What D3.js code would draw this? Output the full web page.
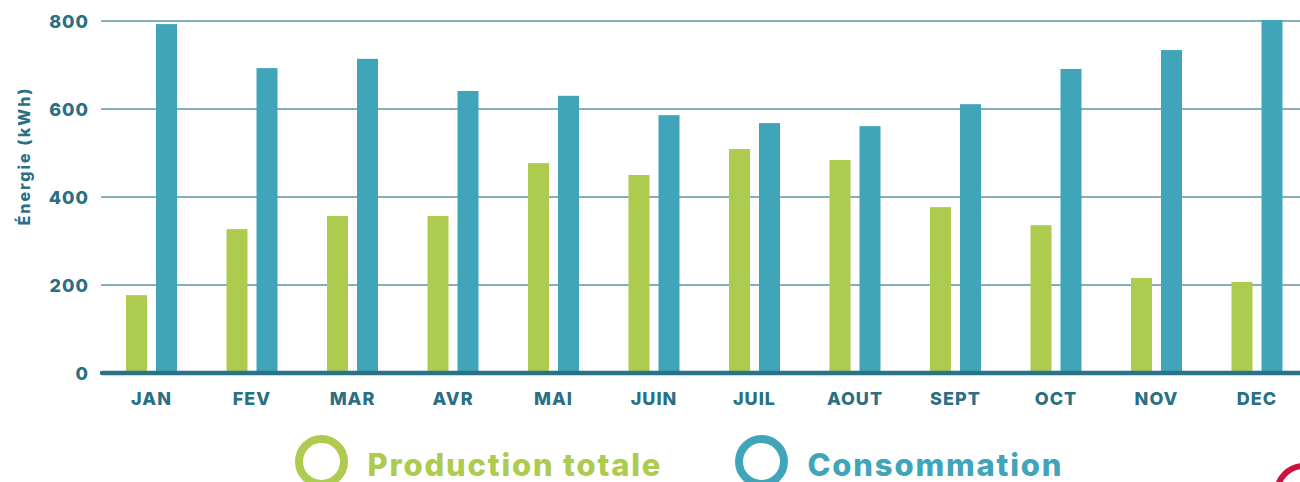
<!DOCTYPE html>
<html>
<head>
<meta charset="utf-8">
<script src="https://cdn.jsdelivr.net/npm/d3@7"></script>
<style>
	body { margin: 0; background: #fff; }
	text { font-family: Inter, "Open Sans", sans-serif; font-weight: 800; }
</style>
</head>
<body>
<div id="chart-area"></div>
<script>

// SVG Size
let width 	= 1300,
	height	= 482;

// data
let months      = ["JAN", "FEV", "MAR", "AVR", "MAI", "JUIN", "JUIL", "AOUT", "SEPT", "OCT", "NOV", "DEC"];
let production  = [177, 327, 357, 357, 477, 450, 509, 484, 377, 336, 216, 207];
let consumption = [793, 693, 714, 641, 630, 586, 568, 561, 611, 691, 734, 802];
let seriesNames = ["Production totale", "Consommation"];
let yTicks      = [0, 200, 400, 600, 800];

let colors = ["#adcb4f", "#41a5b9"];
let textColor = "#2a6f84";

let data = months.map((m, i) => ({ month: m, values: [production[i], consumption[i]] }));

let svg = d3.select("#chart-area")
	.append("svg")
	.attr("width", width)
	.attr("height", height);

// scales
let x0 = d3.scaleBand()
	.domain(months)
	.range([101.25, 1307.25])
	.paddingInner(0.4925)
	.paddingOuter(0.24625);

let x1 = d3.scaleBand()
	.domain([0, 1])
	.range([0, x0.bandwidth()])
	.paddingInner(0.3);

let y = d3.scaleLinear()
	.domain([0, 800])
	.range([373, 21]);

// gridlines
svg.selectAll(".grid")
	.data(yTicks.filter(d => d > 0))
	.enter()
	.append("line")
	.attr("class", "grid")
	.attr("x1", 101)
	.attr("x2", width)
	.attr("y1", d => y(d))
	.attr("y2", d => y(d))
	.attr("stroke", "#5a93a3")
	.attr("stroke-width", 1.6);

// bars
let groups = svg.selectAll(".month")
	.data(data)
	.enter()
	.append("g")
	.attr("class", "month")
	.attr("transform", d => "translate(" + x0(d.month) + ",0)");

groups.selectAll("rect")
	.data(d => d.values)
	.enter()
	.append("rect")
	.attr("x", (d, i) => x1(i))
	.attr("width", x1.bandwidth())
	.attr("y", d => y(d))
	.attr("height", d => y(0) - y(d))
	.attr("fill", (d, i) => colors[i]);

// y axis (labels only)
let yAxis = d3.axisLeft(y)
	.tickValues(yTicks)
	.tickSize(0)
	.tickPadding(0);

let yg = svg.append("g")
	.attr("transform", "translate(89,0)")
	.call(yAxis);
yg.select(".domain").remove();
yg.selectAll("text")
	.attr("fill", textColor)
	.style("font-size", "18px")
	.style("letter-spacing", "1px")
	.attr("dy", "0.35em");

// x axis
let xAxis = d3.axisBottom(x0)
	.tickSize(0)
	.tickPadding(19);

let xg = svg.append("g")
	.attr("transform", "translate(0," + y(0) + ")")
	.call(xAxis);
xg.select(".domain").remove();
xg.selectAll("text")
	.attr("fill", textColor)
	.style("font-size", "18px")
	.style("letter-spacing", "1px");

// baseline
svg.append("line")
	.attr("x1", 102)
	.attr("x2", width)
	.attr("y1", y(0))
	.attr("y2", y(0))
	.attr("stroke", "#2a7286")
	.attr("stroke-width", 4.5)
	.attr("stroke-linecap", "round");

// y title
svg.append("text")
	.text("Énergie (kWh)")
	.attr("transform", "translate(30,156) rotate(-90)")
	.attr("text-anchor", "middle")
	.attr("fill", textColor)
	.style("font-size", "16px")
	.style("letter-spacing", "2px");

// legend
let legendX = [321.5, 761.5];
let legend = svg.selectAll(".legend")
	.data(seriesNames)
	.enter()
	.append("g")
	.attr("class", "legend")
	.attr("transform", (d, i) => "translate(" + legendX[i] + ",461.5)");

legend.append("circle")
	.attr("r", 22.5)
	.attr("fill", "none")
	.attr("stroke", (d, i) => colors[i])
	.attr("stroke-width", 8);

legend.append("text")
	.text(d => d)
	.attr("x", 46)
	.attr("y", 14)
	.attr("fill", (d, i) => colors[i])
	.style("font-size", "31px")
	.style("letter-spacing", "1.8px");

// red ring cut off at the corner
svg.append("circle")
	.attr("cx", 1304)
	.attr("cy", 493)
	.attr("r", 27)
	.attr("fill", "none")
	.attr("stroke", "#cc1340")
	.attr("stroke-width", 6);

</script>
</body>
</html>
